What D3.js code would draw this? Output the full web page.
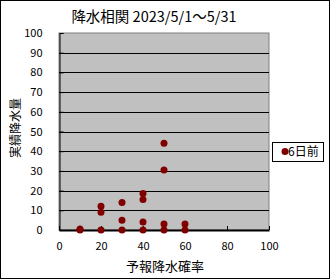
<!DOCTYPE html>
<html>
<head>
<meta charset="utf-8">
<script src="https://cdn.jsdelivr.net/npm/d3@7"></script>
<style>
  body { margin: 0; background: #fff; }
  svg { display: block; }
</style>
</head>
<body>
<svg id="chart" width="330" height="279"></svg>
<script>
// data
const forecast = [10, 10, 20, 20, 20, 30, 30, 30, 40, 40, 40, 40, 50, 50, 50, 50, 60, 60]
const actual = [0, 0.5, 0, 9, 12, 0, 5, 14, 0, 4, 15.5, 18.5, 0, 3, 30.5, 44, 0, 3]
const xTicks = [0, 20, 40, 60, 80, 100]
const yTicks = [0, 10, 20, 30, 40, 50, 60, 70, 80, 90, 100]
const seriesName = '6日前'
const title = '降水相関 2023/5/1～5/31'
const xTitle = '予報降水確率'
const yTitle = '実績降水量'

const width = 330
const height = 279
const font = '"Noto Sans CJK JP", "Noto Sans", sans-serif'
const markColor = '#800000'

const plot = { left: 59, right: 269, top: 33, bottom: 230 }

const svg = d3.select('#chart')

// outer frame
svg
  .append('rect')
  .attr('x', 0.5)
  .attr('y', 0.5)
  .attr('width', width - 1)
  .attr('height', height - 1)
  .attr('fill', '#fff')
  .attr('stroke', '#000')

const x = d3.scaleLinear().domain([0, 100]).range([plot.left, plot.right])
const y = d3.scaleLinear().domain([0, 100]).range([plot.bottom, plot.top])

// plot area
svg
  .append('rect')
  .attr('x', plot.left)
  .attr('y', plot.top)
  .attr('width', plot.right - plot.left)
  .attr('height', plot.bottom - plot.top)
  .attr('fill', '#c0c0c0')
  .attr('stroke', '#808080')

// horizontal gridlines
svg
  .append('g')
  .attr('id', 'grid')
  .selectAll('line')
  .data(yTicks.filter((d) => d > 0 && d < 100))
  .join('line')
  .attr('x1', plot.left)
  .attr('x2', plot.right)
  .attr('y1', (d) => Math.round(y(d)) + 0.5)
  .attr('y2', (d) => Math.round(y(d)) + 0.5)
  .attr('stroke', '#000')

// y axis
const yAxis = svg
  .append('g')
  .attr('id', 'yAxis')
  .attr('transform', `translate(${plot.left + 0.5},0)`)
  .call(d3.axisLeft(y).tickValues(yTicks).tickSize(-4).tickPadding(17))
yAxis.select('.domain').attr('stroke', '#000')
yAxis
  .selectAll('text')
  .attr('font-family', font)
  .attr('font-size', 11)
  .attr('fill', '#000')

// x axis
const xAxis = svg
  .append('g')
  .attr('id', 'xAxis')
  .attr('transform', `translate(0,${plot.bottom})`)
  .call(d3.axisBottom(x).tickValues(xTicks).tickSize(-4).tickPadding(12).tickSizeOuter(0))
xAxis.select('.domain').attr('stroke', '#000').attr('stroke-width', 2)
xAxis
  .selectAll('text')
  .attr('font-family', font)
  .attr('font-size', 11)
  .attr('fill', '#000')

// points
svg
  .append('g')
  .attr('id', 'points')
  .selectAll('circle')
  .data(forecast.map((f, i) => ({ f, a: actual[i] })))
  .join('circle')
  .attr('cx', (d) => x(d.f))
  .attr('cy', (d) => y(d.a))
  .attr('r', 3.5)
  .attr('fill', markColor)

// title
svg
  .append('text')
  .attr('x', 154)
  .attr('y', 22)
  .attr('text-anchor', 'middle')
  .attr('font-family', font)
  .attr('font-size', 14.5)
  .text(title)

// axis titles
svg
  .append('text')
  .attr('x', 165)
  .attr('y', 271)
  .attr('text-anchor', 'middle')
  .attr('font-family', font)
  .attr('font-size', 13)
  .text(xTitle)

svg
  .append('text')
  .attr('transform', 'translate(20,128) rotate(-90)')
  .attr('text-anchor', 'middle')
  .attr('font-family', font)
  .attr('font-size', 12)
  .text(yTitle)

// legend
const legend = svg.append('g').attr('id', 'legend')
legend
  .append('rect')
  .attr('x', 272.5)
  .attr('y', 142.5)
  .attr('width', 51)
  .attr('height', 19)
  .attr('fill', '#fff')
  .attr('stroke', '#000')
legend
  .append('circle')
  .attr('cx', 285)
  .attr('cy', 151.5)
  .attr('r', 3.5)
  .attr('fill', markColor)
legend
  .append('text')
  .attr('x', 288)
  .attr('y', 156)
  .attr('font-family', font)
  .attr('font-size', 12)
  .text(seriesName)
</script>
</body>
</html>
